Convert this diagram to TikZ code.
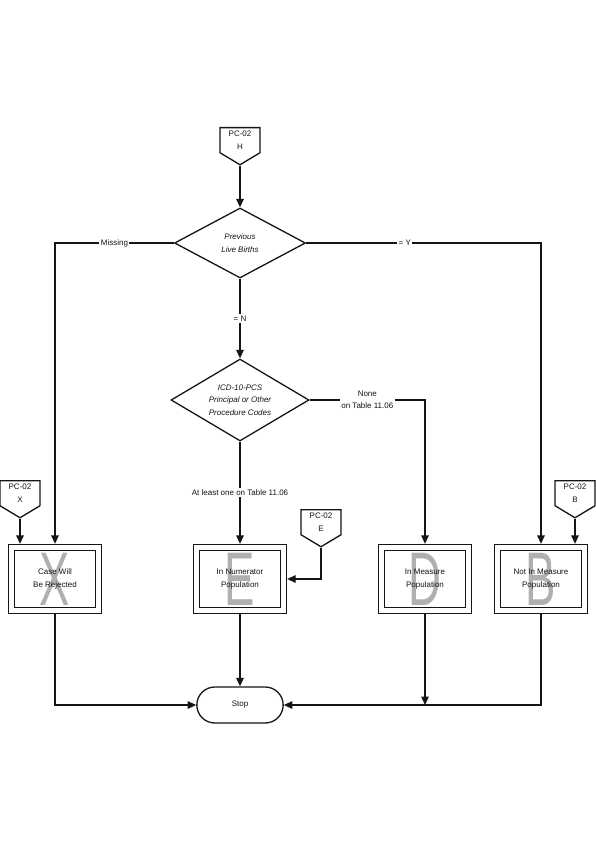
\documentclass[tikz,border=0pt]{standalone}
\usepackage{fontspec}
\usepackage{graphicx}
\setmainfont{Liberation Sans}
\usetikzlibrary{arrows.meta,shapes.geometric,shapes.symbols,shapes.misc}
\definecolor{ink}{HTML}{151515}
\definecolor{ghost}{HTML}{B0B0B0}
\newcommand{\lblfont}{\fontsize{8}{12.5}\selectfont}
\tikzset{
  line/.style={draw=ink, line width=1.3pt},
  arrline/.style={line, -{Triangle[length=8.5pt,width=7.5pt]}},
  offpage/.style={signal, signal to=south, signal from=nowhere, signal pointer angle=118,
    draw=ink, line width=1.3pt, fill=white, align=center, minimum width=40pt,
    inner xsep=2pt, inner ysep=3.5pt, anchor=north, text=ink, font=\lblfont},
  decision/.style={diamond, draw=ink, line width=1.3pt, fill=white, inner sep=0pt,
    align=center, text=ink, font=\lblfont\itshape},
  ghostletter/.style={text=ghost, draw=none, fill=none, inner sep=0pt,
    font=\fontsize{76}{76}\selectfont},
  popbox/.style={rectangle, draw=ink, line width=1.3pt, double, double distance=4.7pt,
    fill=white, minimum width=87pt, minimum height=63pt, outer sep=3.65pt,
    align=center, text=ink, font=\lblfont,
    path picture={\node[ghostletter] at (path picture bounding box.center) {\scalebox{0.6}[1]{#1}};}},
  terminal/.style={rounded rectangle, draw=ink, line width=1.3pt, fill=white,
    minimum width=93pt, minimum height=36pt, text=ink, font=\lblfont},
  lbl/.style={fill=white, inner sep=1.5pt, align=center, text=ink, font=\lblfont}
}
\begin{document}
\begin{tikzpicture}[x=1pt, y=-1pt]
  \useasboundingbox (0,0) rectangle (595,850);

  \node[offpage] (pcH) at (240,127) {PC-02\\H};
  \node[decision, minimum width=131pt, minimum height=70pt, aspect=1.87] (prev) at (240,243) {Previous\\Live Births};
  \node[decision, minimum width=138pt, minimum height=82pt, aspect=1.68] (icd) at (240,400) {ICD-10-PCS\\Principal or Other\\Procedure Codes};

  \node[offpage] (pcX) at (20,480) {PC-02\\X};
  \node[offpage] (pcE) at (321,509) {PC-02\\E};
  \node[offpage] (pcB) at (575,480) {PC-02\\B};

  \node[popbox=X] (caseX) at (55,579) {Case Will\\Be Rejected};
  \node[popbox=E] (numE) at (240,579) {In Numerator\\Population};
  \node[popbox=D] (measD) at (425,579) {In Measure\\Population};
  \node[popbox=B] (notB) at (541,579) {Not In Measure\\Population};

  \node[terminal] (stop) at (240,705) {Stop};

  \draw[arrline] (pcH.south) -- (prev.north);
  \draw[arrline] (prev.west) -| node[lbl, pos=0.25] {Missing} (caseX.north);
  \draw[arrline] (prev.east) -| node[lbl, pos=0.21] {= Y} (notB.north);
  \draw[arrline] (prev.south) -- node[lbl] {= N} (icd.north);
  \draw[arrline] (icd.east) -| node[lbl, pos=0.25] {None\\on Table 11.06} (measD.north);
  \draw[arrline] (icd.south) -- node[lbl] {At least one on Table 11.06} (numE.north);
  \draw[arrline] (pcX.south) -- (pcX.south |- caseX.north);
  \draw[arrline] (pcE.south) |- (numE.east);
  \draw[arrline] (pcB.south) -- (pcB.south |- notB.north);

  \draw[arrline] (caseX.south) |- (stop.west);
  \draw[arrline] (numE.south) -- (stop.north);
  \draw[arrline] (measD.south) -- (measD.south |- stop.east);
  \draw[arrline] (notB.south) |- (stop.east);
\end{tikzpicture}
\end{document}
